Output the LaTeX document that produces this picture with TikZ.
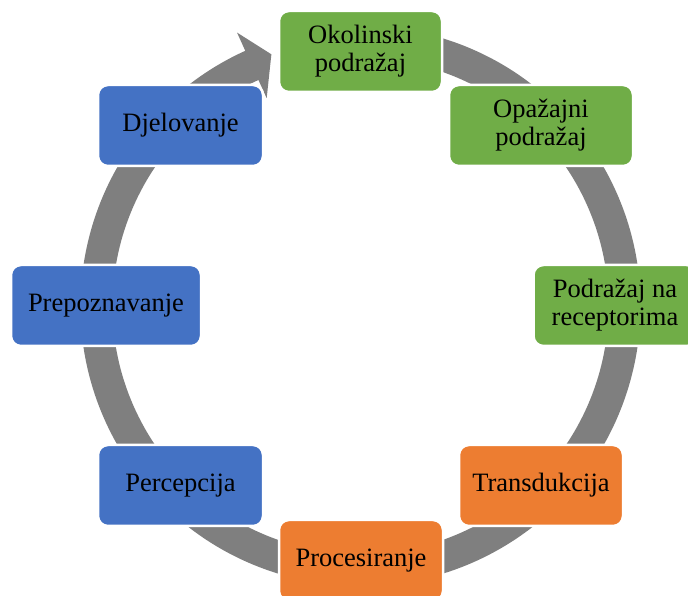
\documentclass[tikz,border=0pt]{standalone}
\usepackage{fontspec}
\setmainfont{Liberation Serif}
\definecolor{cgreen}{HTML}{70AD47}
\definecolor{cblue}{HTML}{4472C4}
\definecolor{corange}{HTML}{ED7D31}
\definecolor{cgray}{HTML}{7F7F7F}
\tikzset{
  stage/.style={draw=white, line width=2.5pt, rounded corners=10pt, minimum height=81pt,
    align=center, font=\fontsize{26.5}{28}\selectfont, text=black, inner sep=2pt},
  ring/.style={fill=cgray}
}
\begin{document}
\begin{tikzpicture}[x=1pt,y=1pt]
\useasboundingbox (0,0) rectangle (688,596);
\clip (0,0) rectangle (688,596);
\begin{scope}[shift={(360.5,290)}]
\fill[ring] (75:280pt) arc[start angle=75, end angle=-245.7, radius=280pt]
  -- (114.3:300pt) -- (109.5:267pt) -- (114.3:228pt) -- (114.3:248pt)
  arc[start angle=-245.7, end angle=75, radius=248pt] -- cycle;
\end{scope}
\node[stage, fill=cgreen, minimum width=163pt] (n1) at (360.5,544.5) {Okolinski\\podražaj};
\node[stage, fill=cgreen, minimum width=184pt] (n2) at (541,470.5) {Opažajni\\podražaj};
\node[stage, fill=cgreen, minimum width=163pt] (n3) at (615,290.5) {Podražaj na\\receptorima};
\node[stage, fill=corange, minimum width=164pt] (n4) at (541,110.5) {Transdukcija};
\node[stage, fill=corange, minimum width=164pt] (n5) at (361,35.5) {Procesiranje};
\node[stage, fill=cblue, minimum width=165pt] (n6) at (180.5,110.5) {Percepcija};
\node[stage, fill=cblue, minimum width=190pt] (n7) at (106,290.5) {Prepoznavanje};
\node[stage, fill=cblue, minimum width=165pt] (n8) at (180.5,470.5) {Djelovanje};
\end{tikzpicture}
\end{document}
